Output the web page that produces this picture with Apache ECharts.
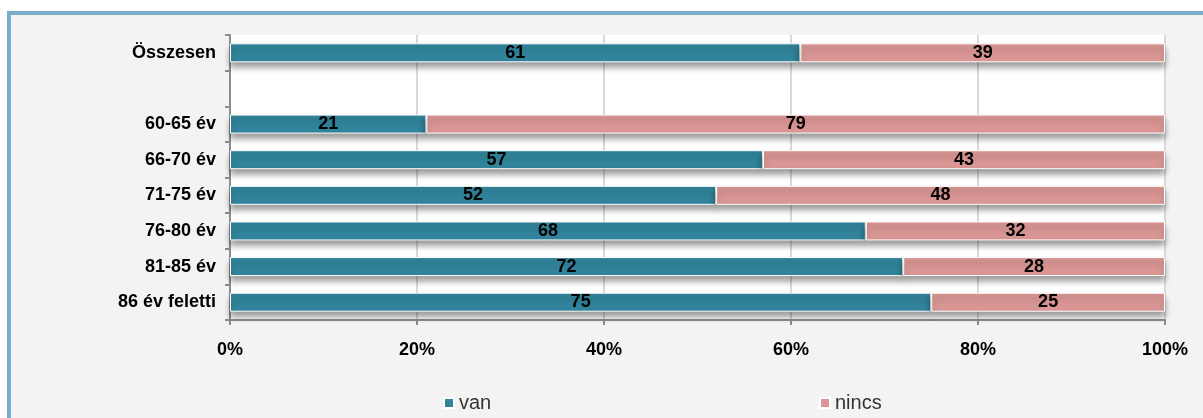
<!DOCTYPE html>
<html><head><meta charset="utf-8">
<script src="https://cdn.jsdelivr.net/npm/echarts@6/dist/echarts.min.js"></script>
<style>
html,body{margin:0;padding:0;background:#fff;width:1203px;height:418px;overflow:hidden;}
#frame{position:absolute;left:7px;top:11px;width:1300px;height:500px;border-top:4px solid #7aaccb;border-left:4px solid #7aaccb;background:#f3f3f3;}
#chart{position:absolute;left:0;top:0;width:1203px;height:418px;}
</style></head>
<body>
<div id="frame"></div>
<div id="chart"></div>
<script>
const categories = ['Összesen', '', '60-65 év', '66-70 év', '71-75 év', '76-80 év', '81-85 év', '86 év feletti'];
const vanValues = [61, '-', 21, 57, 52, 68, 72, 75];
const nincsValues = [39, '-', 79, 43, 48, 32, 28, 25];
const xTicks = ['0%', '20%', '40%', '60%', '80%', '100%'];

const boldFont = "'Liberation Sans', Arial, sans-serif";

const chart = echarts.init(document.getElementById('chart'));
const barStyle = (color) => ({
  color: color,
  borderColor: '#ffffff',
  borderWidth: 1,
  shadowColor: 'rgba(0,0,0,0.4)',
  shadowBlur: 6,
  shadowOffsetY: 5
});
const labelStyle = {
  show: true,
  position: 'inside',
  color: '#000',
  fontWeight: 'bold',
  fontFamily: boldFont,
  fontSize: 18
};
chart.setOption({
  animation: false,
  backgroundColor: 'transparent',
  grid: { left: 230, right: 38, top: 35, bottom: 98, show: true, backgroundColor: '#ffffff', borderWidth: 0 },
  legend: [
    { data: ['van'], left: 438, top: 388, itemWidth: 10, itemHeight: 10, icon: 'rect', itemGap: 6,
      textStyle: { fontFamily: boldFont, fontSize: 20, color: '#333' } },
    { data: ['nincs'], left: 814, top: 388, itemWidth: 10, itemHeight: 10, icon: 'rect',
      textStyle: { fontFamily: boldFont, fontSize: 20, color: '#333' } }
  ],
  xAxis: {
    type: 'value', min: 0, max: 100, interval: 20,
    axisLine: { show: true, lineStyle: { color: '#8c8c8c', width: 2 } },
    axisTick: { show: true, length: 5, lineStyle: { color: '#8c8c8c', width: 2 } },
    splitLine: { show: true, lineStyle: { color: '#d9d9d9', width: 2 } },
    axisLabel: {
      margin: 21, color: '#000', fontWeight: 'bold', fontFamily: boldFont, fontSize: 18,
      formatter: (v) => xTicks[Math.round(v / 20)]
    }
  },
  yAxis: {
    type: 'category', inverse: true, data: categories,
    axisLine: { show: true, lineStyle: { color: '#8c8c8c', width: 2 } },
    axisTick: { show: true, length: 5, lineStyle: { color: '#8c8c8c', width: 2 } },
    axisLabel: { margin: 14, color: '#000', fontWeight: 'bold', fontFamily: boldFont, fontSize: 18 }
  },
  series: [
    { name: 'van', type: 'bar', stack: 'total', data: vanValues, barWidth: 19,
      itemStyle: barStyle('#31849b'), label: labelStyle },
    { name: 'nincs', type: 'bar', stack: 'total', data: nincsValues, barWidth: 19,
      itemStyle: barStyle('#d99694'), label: labelStyle }
  ]
});
</script>
</body></html>
